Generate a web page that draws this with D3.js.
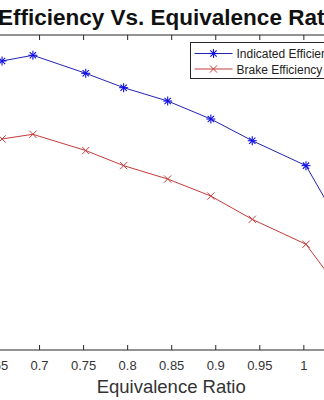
<!DOCTYPE html>
<html>
<head>
<meta charset="utf-8">
<script src="https://cdn.jsdelivr.net/npm/d3@7"></script>
<style>
  body { margin: 0; background: #fff; }
  svg { display: block; }
</style>
</head>
<body>
<script>
// equivalence ratio (x) and efficiencies (%)
let phi = [0.658, 0.693, 0.753, 0.796, 0.846, 0.895, 0.942, 1.003, 1.05];
let indicated = [42.94, 43.39, 41.96, 40.82, 39.76, 38.33, 36.61, 34.63, 28.9];
let brake = [36.75, 37.12, 35.83, 34.63, 33.57, 32.22, 30.37, 28.39, 23.97];
let xTicks = [0.65, 0.7, 0.75, 0.8, 0.85, 0.9, 0.95, 1, 1.05];
let seriesNames = ['Indicated Efficiency', 'Brake Efficiency'];

let width = 324, height = 400;
let axisColor = '#262626';

let svg = d3.select('body').append('svg')
	.attr('width', width)
	.attr('height', height)
	.style('overflow', 'hidden');

//scales (axes box runs past the window on both sides)
let xScale = d3.scaleLinear()
	.domain([0.65, 1.05])
	.range([-5, 347.4]);

let yScale = d3.scaleLinear()
	.domain([20, 45])
	.range([350, 35]);

//box lines
svg.append('line')
	.attr('x1', 0).attr('x2', width)
	.attr('y1', yScale(20)).attr('y2', yScale(20))
	.attr('stroke', axisColor).attr('stroke-width', 1);
svg.append('line')
	.attr('x1', 0).attr('x2', width)
	.attr('y1', yScale(45)).attr('y2', yScale(45))
	.attr('stroke', axisColor).attr('stroke-width', 1);

//bottom axis with inward ticks
let xAxis = d3.axisBottom(xScale)
	.tickValues(xTicks)
	.tickSize(-5)
	.tickPadding(11)
	.tickFormat(function(d) { return d3.format('')(+d.toFixed(2)); });

let gx = svg.append('g')
	.attr('transform', 'translate(0,' + yScale(20) + ')')
	.call(xAxis);
gx.select('.domain').remove();
gx.selectAll('line').attr('stroke', axisColor);
gx.selectAll('text')
	.attr('fill', '#333')
	.attr('font-family', 'Liberation Sans, Arial, sans-serif')
	.attr('font-size', '13px');

//top axis ticks only
let gTop = svg.append('g')
	.attr('transform', 'translate(0,' + yScale(45) + ')')
	.call(d3.axisTop(xScale).tickValues(xTicks).tickSize(-5).tickFormat(''));
gTop.select('.domain').remove();
gTop.selectAll('line').attr('stroke', axisColor);

//title and x label
svg.append('text')
	.attr('x', xScale(0.85))
	.attr('y', 25)
	.attr('text-anchor', 'middle')
	.attr('font-family', 'Liberation Sans, Arial, sans-serif')
	.attr('font-weight', 'bold')
	.attr('font-size', '22.5px')
	.attr('fill', '#111')
	.text('Efficiency Vs. Equivalence Ratio');

svg.append('text')
	.attr('x', xScale(0.85))
	.attr('y', 393)
	.attr('text-anchor', 'middle')
	.attr('font-family', 'Liberation Sans, Arial, sans-serif')
	.attr('font-size', '18.5px')
	.attr('fill', '#333')
	.text('Equivalence Ratio');

//marker drawers
function drawStar(g, x, y, color) {
	let r = 4.5;
	[[0, 1], [1, 0], [0.7, 0.7], [0.7, -0.7]].forEach(function(v) {
		g.append('line')
			.attr('x1', x - v[0] * r).attr('y1', y - v[1] * r)
			.attr('x2', x + v[0] * r).attr('y2', y + v[1] * r)
			.attr('stroke', color).attr('stroke-width', 1.1);
	});
}
function drawCross(g, x, y, color) {
	let r = 3.6;
	[[1, 1], [1, -1]].forEach(function(v) {
		g.append('line')
			.attr('x1', x - v[0] * r).attr('y1', y - v[1] * r)
			.attr('x2', x + v[0] * r).attr('y2', y + v[1] * r)
			.attr('stroke', color).attr('stroke-width', 1);
	});
}

let series = [
	{ name: seriesNames[0], values: indicated, color: '#2222b0', marker: '#1010e0', draw: drawStar },
	{ name: seriesNames[1], values: brake, color: '#c43a3a', marker: '#c43a3a', draw: drawCross }
];

let line = d3.line()
	.x(function(d) { return xScale(d[0]); })
	.y(function(d) { return yScale(d[1]); });

series.forEach(function(s) {
	let pts = phi.map(function(p, i) { return [p, s.values[i]]; });
	let g = svg.append('g');
	g.append('path')
		.datum(pts)
		.attr('d', line)
		.attr('fill', 'none')
		.attr('stroke', s.color)
		.attr('stroke-width', 1);
	pts.forEach(function(p) {
		s.draw(g, xScale(p[0]), yScale(p[1]), s.marker);
	});
});

//legend
let legend = svg.append('g').attr('transform', 'translate(190.5,42.5)');
legend.append('rect')
	.attr('x', 0).attr('y', 0)
	.attr('width', 160).attr('height', 36)
	.attr('fill', '#fff')
	.attr('stroke', axisColor)
	.attr('stroke-width', 1);

series.forEach(function(s, i) {
	let cy = 11 + i * 15.5;
	legend.append('line')
		.attr('x1', 4).attr('x2', 42)
		.attr('y1', cy).attr('y2', cy)
		.attr('stroke', s.color).attr('stroke-width', 1);
	s.draw(legend, 23, cy, s.marker);
	legend.append('text')
		.attr('x', 46)
		.attr('y', cy + 4.5)
		.attr('font-family', 'Liberation Sans, Arial, sans-serif')
		.attr('font-size', '12px')
		.attr('fill', '#222')
		.text(s.name);
});
</script>
</body>
</html>
